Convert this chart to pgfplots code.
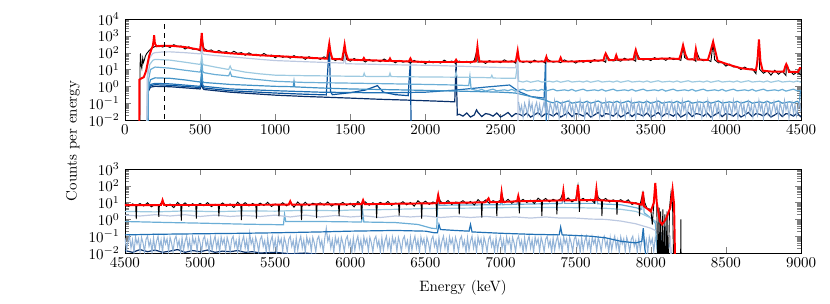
\documentclass[border=0pt]{standalone}
\usepackage{pgfplots}
\pgfplotsset{compat=1.18}
\definecolor{bl1}{HTML}{BDC9E1}
\definecolor{bl2}{HTML}{9ECAE1}
\definecolor{bl3}{HTML}{6BAED6}
\definecolor{bl4}{HTML}{4292C6}
\definecolor{bl5}{HTML}{2171B5}
\definecolor{bl6}{HTML}{08519C}
\definecolor{bl7}{HTML}{08306B}
\definecolor{bln}{HTML}{94B4D8}
\begin{document}
\begin{tikzpicture}
\useasboundingbox (0,0) rectangle (553.33pt,202pt);
% ---------------- top panel ----------------
\begin{axis}[at={(83.33pt,122pt)}, anchor=south west, scale only axis, width=450.67pt, height=67.33pt,
  ymode=log, ymin=1e-2, ymax=1e4, xmin=0, xmax=4500, xtick={0,500,...,4500},
  ytick={1e-2,1e-1,1,1e1,1e2,1e3,1e4},
  /pgf/number format/1000 sep={}, scaled x ticks=false, tick align=inside]
% navy
\addplot[bl7, line width=0.8pt, no marks] coordinates {(148,1e-4)(150,1e-4)(155,0.5)(170,0.9)(200,1.0)(300,0.95)(500,0.7)(505,0.9)(511,3)(517,0.8)(525,0.65)(700,0.45)(1000,0.3)(1200,0.25)(1500,0.2)(1700,0.17)(1900,0.15)(2100,0.13)(2195,0.12)(2204,28)(2212,0.02)
(2225,0.022)(2250,0.017)(2275,0.026)(2300,0.015)(2325,0.02)(2340,0.04)(2350,0.028)(2375,0.016)(2400,0.024)
(2425,0.022)(2450,0.017)(2475,0.026)(2500,0.015)(2525,0.02)(2550,0.028)(2575,0.016)(2600,0.024)
(2625,0.022)(2650,0.017)(2675,0.026)(2700,0.015)(2725,0.02)(2750,0.028)(2775,0.016)(2800,0.024)
(2825,0.022)(2850,0.017)(2875,0.026)(2900,0.015)(2925,0.02)(2950,0.028)(2975,0.016)(3000,0.024)
(3025,0.022)(3050,0.017)(3075,0.026)(3100,0.015)(3125,0.02)(3150,0.028)(3175,0.016)(3200,0.024)
(3225,0.022)(3250,0.017)(3275,0.026)(3300,0.015)(3325,0.02)(3350,0.028)(3375,0.016)(3400,0.024)
(3425,0.022)(3450,0.017)(3475,0.026)(3500,0.015)(3525,0.02)(3550,0.028)(3575,0.016)(3600,0.024)
(3625,0.022)(3650,0.017)(3675,0.026)(3700,0.015)(3725,0.02)(3750,0.028)(3775,0.016)(3800,0.024)
(3825,0.022)(3850,0.017)(3875,0.026)(3900,0.015)(3925,0.02)(3950,0.028)(3975,0.016)(4000,0.024)
(4025,0.022)(4050,0.017)(4075,0.026)(4100,0.015)(4125,0.02)(4150,0.028)(4175,0.016)(4200,0.024)
(4225,0.022)(4250,0.017)(4275,0.026)(4300,0.015)(4325,0.02)(4350,0.028)(4375,0.016)(4400,0.024)
(4425,0.022)(4450,0.017)(4475,0.026)(4500,0.015)};
% bl6 : edge near 1680, peaks 1360 and 1900
\addplot[bl6, line width=0.8pt, no marks] coordinates {(148,1e-4)(150,1e-4)(155,0.6)(170,1.1)(200,1.25)(300,1.15)(500,0.85)(505,1.2)(511,4)(517,1)(525,0.8)(700,0.55)(1000,0.4)(1200,0.34)(1340,0.31)(1352,20)(1360,300)(1368,0.5)(1380,0.32)(1500,0.42)(1600,0.6)(1680,1.1)(1720,0.45)(1800,0.32)(1885,0.28)(1893,4)(1900,30)(1906,1e-4)};
% bl5 : edge near 2560, peak 2800
\addplot[bl5, line width=0.8pt, no marks] coordinates {(148,1e-4)(150,1e-4)(155,0.7)(170,1.3)(200,1.5)(300,1.4)(500,1.0)(505,1.5)(511,5)(517,1.2)(525,1.0)(700,0.7)(1000,0.55)(1300,0.45)(1600,0.42)(1800,0.42)(2000,0.45)(2200,0.6)(2400,0.9)(2560,1.2)(2620,0.5)(2700,0.25)(2790,0.2)(2800,50)(2806,1e-4)};
% bl4
\addplot[bl4, line width=0.8pt, no marks] coordinates {(148,1e-4)(150,1e-4)(155,0.8)(170,2.5)(200,3.2)(300,3)(400,2.4)(500,1.8)(505,2.5)(511,10)(517,2)(525,1.7)(700,1.3)(1000,1.0)(1120,0.95)(1125,2)(1130,0.93)(1300,0.8)(1500,0.7)(1700,0.65)(1900,0.6)(2100,0.55)(2300,0.5)(2500,0.45)(2600,0.4)(2700,0.25)(2800,0.15)
(2825,0.12)(2850,0.105)(2875,0.13)(2900,0.1)(2925,0.115)(2950,0.135)(2975,0.1)(3000,0.11)
(3025,0.12)(3050,0.105)(3075,0.13)(3100,0.1)(3125,0.115)(3150,0.135)(3175,0.1)(3200,0.11)
(3225,0.12)(3250,0.105)(3275,0.13)(3300,0.1)(3325,0.115)(3350,0.135)(3375,0.1)(3400,0.11)
(3425,0.12)(3450,0.105)(3475,0.13)(3500,0.1)(3525,0.115)(3550,0.135)(3575,0.1)(3600,0.11)
(3625,0.12)(3650,0.105)(3675,0.13)(3700,0.1)(3725,0.115)(3750,0.135)(3775,0.1)(3800,0.11)
(3825,0.12)(3850,0.105)(3875,0.13)(3900,0.1)(3925,0.115)(3950,0.135)(3975,0.1)(4000,0.11)
(4025,0.12)(4050,0.105)(4075,0.13)(4100,0.1)(4125,0.115)(4150,0.135)(4175,0.1)(4200,0.11)
(4225,0.12)(4250,0.105)(4275,0.13)(4300,0.1)(4325,0.115)(4350,0.135)(4375,0.1)(4400,0.11)
(4425,0.12)(4450,0.105)(4475,0.13)(4490,0.1)(4495,0.5)(4500,0.5)};
% bl3
\addplot[bl3, line width=0.8pt, no marks] coordinates {(148,1e-4)(150,1e-4)(155,2)(170,10)(200,14)(300,12)(400,9)(500,7)(505,10)(511,40)(517,8)(525,6.5)(600,5)(690,4.2)(700,7)(710,4)(800,3)(1000,2)(1200,1.7)(1400,1.6)(1600,1.5)(1800,1.4)(2000,1.3)(2200,1.2)(2288,1.1)(2296,4)(2304,0.7)
(2325,0.62)(2350,0.55)(2375,0.66)(2400,0.52)(2425,0.6)(2450,0.68)(2475,0.54)(2500,0.58)
(2525,0.62)(2550,0.55)(2575,0.66)(2600,0.52)(2625,0.6)(2650,0.68)(2675,0.54)(2700,0.58)
(2725,0.62)(2750,0.55)(2775,0.66)(2800,0.52)(2825,0.6)(2850,0.68)(2875,0.54)(2900,0.58)
(2925,0.62)(2950,0.55)(2975,0.66)(3000,0.52)(3025,0.6)(3050,0.68)(3075,0.54)(3100,0.58)
(3125,0.62)(3150,0.55)(3175,0.66)(3200,0.52)(3225,0.6)(3250,0.68)(3275,0.54)(3300,0.58)
(3325,0.62)(3350,0.55)(3375,0.66)(3400,0.52)(3425,0.6)(3450,0.68)(3475,0.54)(3500,0.58)
(3525,0.62)(3550,0.55)(3575,0.66)(3600,0.52)(3625,0.6)(3650,0.68)(3675,0.54)(3700,0.58)
(3725,0.62)(3750,0.55)(3775,0.66)(3800,0.52)(3825,0.6)(3850,0.68)(3875,0.54)(3900,0.58)
(3925,0.62)(3950,0.55)(3975,0.66)(4000,0.52)(4025,0.6)(4050,0.68)(4075,0.54)(4100,0.58)
(4125,0.62)(4150,0.55)(4175,0.66)(4200,0.52)(4225,0.6)(4250,0.68)(4275,0.54)(4300,0.58)
(4325,0.62)(4350,0.55)(4375,0.66)(4400,0.52)(4425,0.6)(4450,0.68)(4475,0.54)(4500,0.58)};
% bl2
\addplot[bl2, line width=0.8pt, no marks] coordinates {(143,1e-4)(145,1e-4)(150,4)(165,20)(185,35)(200,40)(300,36)(400,27)(500,20)(505,25)(511,70)(517,22)(525,19)(600,14)(690,10)(700,16)(710,10)(800,7)(900,5.5)(1000,4.6)(1200,4.3)(1400,4.1)(1585,3.9)(1592,6)(1600,3.9)(1757,3.8)(1764,6)(1771,3.8)(2000,3.6)(2197,3.5)(2204,7)(2212,3.5)(2400,3.3)(2435,3.2)(2442,4.5)(2450,3.1)(2600,3)(2608,10)(2614,40)(2620,2)
(2625,2.0)(2650,1.8)(2675,2.1)(2700,1.75)(2725,1.95)(2750,2.15)(2775,1.8)(2800,1.9)
(2825,2.0)(2850,1.8)(2875,2.1)(2900,1.75)(2925,1.95)(2950,2.15)(2975,1.8)(3000,1.9)
(3025,2.0)(3050,1.8)(3075,2.1)(3100,1.75)(3125,1.95)(3150,2.15)(3175,1.8)(3200,1.9)
(3225,2.0)(3250,1.8)(3275,2.1)(3300,1.75)(3325,1.95)(3350,2.15)(3375,1.8)(3400,1.9)
(3425,2.0)(3450,1.8)(3475,2.1)(3500,1.75)(3525,1.95)(3550,2.15)(3575,1.8)(3600,1.9)
(3625,2.0)(3650,1.8)(3675,2.1)(3700,1.75)(3725,1.95)(3750,2.15)(3775,1.8)(3800,1.9)
(3825,2.0)(3850,1.8)(3875,2.1)(3900,1.75)(3925,1.95)(3950,2.15)(3975,1.8)(4000,1.9)
(4025,2.0)(4050,1.8)(4075,2.1)(4100,1.75)(4125,1.95)(4150,2.15)(4175,1.8)(4200,1.9)
(4225,2.0)(4250,1.8)(4275,2.1)(4300,1.75)(4325,1.95)(4350,2.15)(4375,1.8)(4400,1.9)
(4425,2.0)(4450,1.8)(4475,2.1)(4500,1.75)};
% bl1 lavender
\addplot[bl1, line width=0.8pt, no marks] coordinates {(138,1e-4)(140,1e-4)(150,15)(165,50)(185,90)(200,100)(250,110)(300,112)(400,100)(500,85)(505,95)(511,300)(517,90)(525,80)(600,68)(700,57)(800,48)(900,40)(1000,34)(1200,29)(1400,25)(1455,24)(1462,60)(1470,22)(1600,21)(1800,19)(2000,18)(2200,16)(2400,14)(2600,12.5)(2610,60)(2614,120)(2618,1e-4)};
% light noise band
\addplot[bln, line width=0.7pt, no marks] coordinates {
(2620,.12)(2630,.03)(2640,.07)(2650,.015)(2660,.1)(2670,.05)(2680,.02)(2690,.14)(2700,.04)(2710,.09)(2720,.013)(2730,.06)(2740,.11)(2750,.025)(2760,.08)(2770,.018)(2780,.05)
(2790,.12)(2800,.03)(2810,.07)(2820,.015)(2830,.1)(2840,.05)(2850,.02)(2860,.14)(2870,.04)(2880,.09)(2890,.013)(2900,.06)(2910,.11)(2920,.025)(2930,.08)(2940,.018)(2950,.05)
(2960,.12)(2970,.03)(2980,.07)(2990,.015)(3000,.1)(3010,.05)(3020,.02)(3030,.14)(3040,.04)(3050,.09)(3060,.013)(3070,.06)(3080,.11)(3090,.025)(3100,.08)(3110,.018)(3120,.05)
(3130,.12)(3140,.03)(3150,.07)(3160,.015)(3170,.1)(3180,.05)(3190,.02)(3200,.14)(3210,.04)(3220,.09)(3230,.013)(3240,.06)(3250,.11)(3260,.025)(3270,.08)(3280,.018)(3290,.05)
(3300,.12)(3310,.03)(3320,.07)(3330,.015)(3340,.1)(3350,.05)(3360,.02)(3370,.14)(3380,.04)(3390,.09)(3400,.013)(3410,.06)(3420,.11)(3430,.025)(3440,.08)(3450,.018)(3460,.05)
(3470,.12)(3480,.03)(3490,.07)(3500,.015)(3510,.1)(3520,.05)(3530,.02)(3540,.14)(3550,.04)(3560,.09)(3570,.013)(3580,.06)(3590,.11)(3600,.025)(3610,.08)(3620,.018)(3630,.05)
(3640,.12)(3650,.03)(3660,.07)(3670,.015)(3680,.1)(3690,.05)(3700,.02)(3710,.14)(3720,.04)(3730,.09)(3740,.013)(3750,.06)(3760,.11)(3770,.025)(3780,.08)(3790,.018)(3800,.05)
(3810,.12)(3820,.03)(3830,.07)(3840,.015)(3850,.1)(3860,.05)(3870,.02)(3880,.14)(3890,.04)(3900,.09)(3910,.013)(3920,.06)(3930,.11)(3940,.025)(3950,.08)(3960,.018)(3970,.05)
(3980,.12)(3990,.03)(4000,.07)(4010,.015)(4020,.1)(4030,.05)(4040,.02)(4050,.14)(4060,.04)(4070,.09)(4080,.013)(4090,.06)(4100,.11)(4110,.025)(4120,.08)(4130,.018)(4140,.05)
(4150,.12)(4160,.03)(4170,.07)(4180,.015)(4190,.1)(4200,.05)(4210,.02)(4220,.14)(4230,.04)(4240,.09)(4250,.013)(4260,.06)(4270,.11)(4280,.025)(4290,.08)(4300,.018)(4310,.05)
(4320,.12)(4330,.03)(4340,.07)(4350,.015)(4360,.1)(4370,.05)(4380,.02)(4390,.14)(4400,.04)(4410,.09)(4420,.013)(4430,.06)(4440,.11)(4450,.025)(4460,.08)(4470,.018)(4480,.05)(4490,.12)(4500,.03)};
% black data
\addplot[black, line width=0.6pt, no marks] coordinates {(85,1e-4)(98,1e-4)(100,12)(103,90)(107,20)(112,12)(118,45)(122,25)(128,35)(135,60)(145,90)(160,130)(175,180)(190,210)(200,230)
(225,274)(250,216)(275,259)(300,203)(325,299)(350,233)(375,248)(400,165)(425,223)(450,160)(475,166)(500,128)(511,900)(525,180)(550,131)(575,145)(600,101)(625,135)(650,102)(675,116)(700,87)(725,122)(750,90)(775,101)(800,70)(825,98)(850,74)(875,80)(900,64)(925,90)(950,65)(975,72)(1000,50)
(1025,69)(1050,53)(1075,61)(1100,47)(1125,67)(1150,50)(1175,57)(1200,40)(1225,58)(1250,44)(1275,49)(1300,40)(1325,57)(1350,42)(1360,200)(1375,47)(1400,34)(1425,46)(1450,35)(1460,180)(1475,41)(1500,31)
(1525,45)(1550,34)(1575,39)(1600,28)(1625,40)(1650,31)(1675,35)(1700,29)(1725,42)(1750,31)(1775,35)(1800,25)(1825,35)(1850,27)(1875,32)(1900,24)(1925,35)(1950,27)(1975,31)(2000,22)
(2025,32)(2050,25)(2075,29)(2100,24)(2125,36)(2150,27)(2175,32)(2200,23)(2225,32)(2250,26)(2275,31)(2300,24)(2325,35)(2345,160)(2350,27)(2375,32)(2400,23)(2425,34)(2450,27)(2475,30.5)(2500,25.5)(2525,37.5)(2550,28.5)(2575,33)(2600,24)(2614,100)
(2625,33.6)(2650,26.4)(2675,31.5)(2700,24.6)(2725,36)(2750,27.9)(2775,32.4)(2800,23.4)(2805,45)(2825,34.5)(2850,27)(2875,30.6)(2900,25.5)(2925,37.5)(2950,28.5)(2975,33)(3000,24)
(3025,34)(3050,27)(3075,33)(3100,26)(3125,39)(3150,31)(3175,36)(3200,27)(3205,70)(3225,40)(3250,32)(3275,37)(3300,31)(3325,47)(3350,36)(3375,42)(3400,31)(3402,120)(3425,45)(3450,36)(3475,43)(3500,34)(3525,51)(3550,40)(3575,48)(3600,35)
(3625,51)(3650,39)(3675,43)(3700,35)(3715,230)(3725,51)(3750,38)(3775,43)(3800,31)(3802,130)(3825,42)(3850,33)(3875,38)(3900,30)(3915,380)(3925,38)(3950,25)(3975,26)(4000,16)
(4025,21)(4050,14)(4075,14)(4100,10)(4125,14)(4150,10)(4175,11)(4200,5.7)(4220,500)(4225,10)(4250,6)(4275,8.4)(4300,4.6)(4325,9)(4350,5.2)(4375,8)(4400,4.4)(4402,18)(4425,8.3)(4450,5)(4475,7.2)(4500,4.6)};
% red fit
\addplot[red, line width=1.3pt, no marks] coordinates {(80,1e-4)(94,1e-4)(96,2.5)(110,3)(125,3.5)(140,8)(160,60)(175,150)(185,250)(190,500)(194,1100)(199,350)(210,240)(260,260)(320,250)(400,215)(480,160)(500,150)(505,400)(511,1500)(517,300)(525,135)(600,110)(700,92)(800,80)(900,70)(1000,63)(1100,57)(1200,51)(1300,46)(1345,44)(1352,120)(1360,350)(1368,110)(1380,43)(1445,40)(1455,120)(1462,300)(1470,100)(1485,39)(1550,37)(1582,36)(1590,48)(1598,36)(1700,34)(1755,32)(1764,45)(1772,32)(1850,31)(1890,30)(1900,45)(1910,30)(2000,28)(2100,28)(2195,28)(2204,38)(2213,28)(2300,28)(2335,30)(2340,80)(2346,230)(2352,80)(2360,29)(2500,29)(2600,30)(2605,45)(2614,130)(2622,40)(2630,30)(2700,30)(2795,30)(2805,57)(2815,30)(2890,30)(2900,50)(2910,30)(3000,30)(3100,33)(3185,35)(3192,60)(3200,90)(3210,60)(3220,36)(3260,37)(3270,70)(3280,38)(3385,40)(3392,80)(3400,145)(3408,80)(3418,42)(3500,42)(3600,45)(3690,43)(3700,80)(3715,280)(3730,80)(3745,41)(3790,39)(3800,160)(3812,39)(3880,37)(3895,100)(3915,450)(3930,120)(3945,33)(4000,22)(4050,16)(4100,12)(4150,10.5)(4200,9.3)(4210,30)(4220,620)(4230,30)(4245,8.5)(4300,7.6)(4385,7.4)(4395,15)(4402,21)(4410,15)(4420,7.3)(4480,7.1)(4492,12)(4500,12)};
% threshold marker
\addplot[black, dashed, line width=0.5pt, no marks] coordinates {(262,1e-3)(262,1e5)};
\end{axis}
% ---------------- bottom panel ----------------
\begin{axis}[at={(83.33pt,33.33pt)}, anchor=south west, scale only axis, width=450.67pt, height=56pt,
  ymode=log, ymin=1e-2, ymax=1e3, xmin=4500, xmax=9000, xtick={4500,5000,...,9000},
  ytick={1e-2,1e-1,1,1e1,1e2,1e3},
  /pgf/number format/1000 sep={}, scaled x ticks=false, tick align=inside]
% navy
\addplot[bl7, line width=0.8pt, no marks] coordinates {(4500,0.014)(4550,0.011)(4600,0.016)(4650,0.012)(4700,0.015)(4750,0.011)(4800,0.013)(4850,0.016)(4900,0.011)(4950,0.014)(5000,0.012)(5050,0.015)(5100,0.011)(5150,0.013)(5200,0.012)(5250,0.014)(5300,0.011)(5350,0.012)(5400,0.010)(5500,0.011)(5600,0.009)(5700,0.010)(5800,0.008)};
% light noise band
\addplot[bln, line width=0.7pt, no marks] coordinates {
(4500,.08)(4510,.015)(4520,.05)(4530,.1)(4540,.02)(4550,.06)(4560,.011)(4570,.09)(4580,.035)(4590,.07)(4600,.013)(4610,.085)(4620,.04)(4630,.012)(4640,.065)(4650,.1)(4660,.025)(4670,.055)(4680,.011)
(4690,.08)(4700,.015)(4710,.05)(4720,.1)(4730,.02)(4740,.06)(4750,.011)(4760,.09)(4770,.035)(4780,.07)(4790,.013)(4800,.085)(4810,.04)(4820,.012)(4830,.065)(4840,.1)(4850,.025)(4860,.055)(4870,.011)
(4880,.08)(4890,.015)(4900,.05)(4910,.1)(4920,.02)(4930,.06)(4940,.011)(4950,.09)(4960,.035)(4970,.07)(4980,.013)(4990,.085)(5000,.04)(5010,.012)(5020,.065)(5030,.1)(5040,.025)(5050,.055)(5060,.011)
(5070,.08)(5080,.015)(5090,.05)(5100,.1)(5110,.02)(5120,.06)(5130,.011)(5140,.09)(5150,.035)(5160,.07)(5170,.013)(5180,.085)(5190,.04)(5200,.012)(5210,.065)(5220,.1)(5230,.025)(5240,.055)(5250,.011)
(5260,.08)(5270,.015)(5280,.05)(5290,.1)(5300,.02)(5310,.06)(5320,.011)(5330,.15)(5340,.035)(5350,.07)(5360,.013)(5370,.085)(5380,.04)(5390,.012)(5400,.065)(5410,.1)(5420,.025)(5430,.055)(5440,.011)
(5450,.08)(5460,.015)(5470,.05)(5480,.1)(5490,.02)(5500,.06)(5510,.011)(5520,.09)(5530,.035)(5540,.07)(5550,.013)(5560,.085)(5570,.04)(5580,.012)(5590,.065)(5600,.1)(5610,.025)(5620,.055)(5630,.011)
(5640,.08)(5650,.015)(5660,.05)(5670,.1)(5680,.02)(5690,.06)(5700,.011)(5710,.09)(5720,.035)(5730,.07)(5740,.013)(5750,.085)(5760,.04)(5770,.012)(5780,.065)(5790,.1)(5800,.025)(5810,.055)(5820,.011)
(5830,.08)(5840,.3)(5850,.05)(5860,.1)(5870,.02)(5880,.06)(5890,.011)(5900,.09)(5910,.035)(5920,.07)(5930,.013)(5940,.085)(5950,.04)(5960,.012)(5970,.065)(5980,.1)(5990,.025)(6000,.055)(6010,.011)
(6020,.08)(6030,.015)(6040,.05)(6050,.1)(6060,.02)(6070,.06)(6080,.011)(6090,.09)(6100,.035)(6110,.07)(6120,.013)(6130,.085)(6140,.04)(6150,.012)(6160,.065)(6170,.1)(6180,.025)(6190,.055)(6200,.011)
(6210,.08)(6220,.015)(6230,.05)(6240,.1)(6250,.02)(6260,.06)(6270,.011)(6280,.09)(6290,.035)(6300,.07)(6310,.013)(6320,.085)(6330,.04)(6340,.012)(6350,.065)(6360,.1)(6370,.025)(6380,.055)(6390,.011)
(6400,.08)(6410,.015)(6420,.05)(6430,.1)(6440,.02)(6450,.06)(6460,.011)(6470,.09)(6480,.035)(6490,.07)(6500,.013)(6510,.085)(6520,.04)(6530,.012)(6540,.065)(6550,.1)(6560,.025)(6570,.055)(6580,.011)
(6590,.08)(6600,.015)(6610,.05)(6620,.1)(6630,.02)(6640,.06)(6650,.011)(6660,.09)(6670,.035)(6680,.07)(6690,.013)(6700,.085)(6710,.04)(6720,.012)(6730,.065)(6740,.1)(6750,.025)(6760,.055)(6770,.011)
(6780,.08)(6790,.015)(6800,.05)(6810,.1)(6820,.02)(6830,.06)(6840,.011)(6850,.09)(6860,.035)(6870,.07)(6880,.013)(6890,.085)(6900,.04)(6910,.012)(6920,.065)(6930,.1)(6940,.025)(6950,.055)(6960,.011)
(6970,.08)(6980,.015)(6990,.05)(7000,.1)(7010,.02)(7020,.06)(7030,.011)(7040,.09)(7050,.035)(7060,.07)(7070,.013)(7080,.085)(7090,.04)(7100,.012)(7110,.065)(7120,.1)(7130,.025)(7140,.055)(7150,.011)
(7160,.08)(7170,.015)(7180,.05)(7190,.1)(7200,.02)(7210,.06)(7220,.011)(7230,.09)(7240,.035)(7250,.07)(7260,.013)(7270,.085)(7280,.04)(7290,.012)(7300,.065)(7310,.1)(7320,.025)(7330,.055)(7340,.011)
(7350,.08)(7360,.015)(7370,.05)(7380,.1)(7390,.02)(7400,.06)(7410,.011)(7420,.09)(7430,.035)(7440,.07)(7450,.013)(7460,.085)(7470,.04)(7480,.012)(7490,.065)(7500,.1)(7510,.025)(7520,.055)(7530,.011)
(7540,.08)(7550,.015)(7560,.05)(7570,.1)(7580,.02)(7590,.06)(7600,.011)(7610,.09)(7620,.035)(7630,.07)(7640,.013)(7650,.085)(7660,.04)(7670,.012)(7680,.065)(7690,.1)(7700,.025)(7710,.055)(7720,.011)
(7730,.08)(7740,.015)(7750,.05)(7760,.1)(7770,.02)(7780,.06)(7790,.011)(7800,.09)(7810,.035)(7820,.07)(7830,.013)(7840,.085)(7850,.04)(7860,.012)(7870,.065)(7880,.1)(7890,.025)(7900,.055)(7910,.011)
(7920,.08)(7930,.015)(7940,.05)(7950,.1)(7960,.02)(7970,.06)(7980,.011)(7990,.09)(8000,.035)(8010,.07)(8020,.013)(8030,.085)(8040,.04)(8050,.012)(8060,.065)(8070,.1)(8080,.025)(8090,.055)(8100,.011)
(8110,.05)(8120,.02)(8130,.04)(8140,.005)};
% bl5 dark
\addplot[bl5, line width=0.8pt, no marks] coordinates {(4500,0.12)(4700,0.13)(5000,0.14)(5300,0.15)(5500,0.16)(5800,0.18)(6000,0.2)(6300,0.22)(6500,0.2)(6560,0.16)(6580,0.16)(6590,0.5)(6600,0.25)(6700,0.22)(6790,0.2)(6800,0.5)(6810,0.18)(7000,0.15)(7200,0.13)(7390,0.12)(7400,0.35)(7410,0.12)(7600,0.1)(7700,0.08)(7800,0.05)(7900,0.04)(7940,0.05)(7950,0.3)(7960,0.02)(8000,1e-4)};
% bl3
\addplot[bl3, line width=0.8pt, no marks] coordinates {(4500,0.75)(4800,0.65)(5000,0.6)(5300,0.52)(5555,0.48)(5562,2)(5570,0.75)(5800,0.75)(6075,0.7)(6082,3)(6090,0.7)(6300,0.65)(6450,0.5)(6540,0.3)(6575,0.28)(6583,18)(6592,7)(7000,7.5)(7005,25)(7012,7.5)(7110,8)(7118,20)(7126,8)(7410,9)(7418,35)(7426,9)(7630,9)(7638,45)(7646,8.5)(7800,7.5)(7900,5)(7940,4)(7948,35)(7956,2.5)(8000,1.2)(8030,0.6)(8060,1e-4)};
% bl2
\addplot[bl2, line width=0.8pt, no marks] coordinates {(4500,3)(4700,2.8)(4900,3.2)(5100,2.9)(5300,3.2)(5500,3.1)(5700,3.5)(5900,3.3)(6000,3.6)(6200,3.8)(6400,4.2)(6500,4.5)(6700,4.6)(7000,5)(7250,5.2)(7500,5)(7700,4.6)(7800,4)(7900,3)(7950,2)(8000,1.2)(8050,0.6)(8100,0.3)(8120,1e-4)};
% lavender
\addplot[bl1, line width=0.8pt, no marks] coordinates {(4500,1.8)(4600,1.6)(4700,1.9)(4800,1.6)(4900,1.9)(5000,1.5)(5100,1.8)(5200,1.5)(5300,1.7)(5400,1.5)(5500,1.8)(5600,1.4)(5700,1.8)(5800,1.4)(5900,1.7)(6000,1.4)(6100,1.6)(6200,1.3)(6300,1.6)(6400,1.4)(6500,1.6)(6600,1.3)(6700,1.5)(6800,1.3)(6900,1.5)(7000,1.3)(7100,1.4)(7200,1.2)(7300,1.4)(7400,1.2)(7500,1.2)(7600,1.05)(7700,1.0)(7800,0.8)(7900,0.55)(8000,0.3)(8050,0.18)(8100,0.12)(8130,0.1)(8140,1e-4)};
% black data
\addplot[black, line width=0.6pt, no marks] coordinates {(4500,9.5)(4525,6)(4550,8.4)(4571,7)(4575,1.05)(4579,7)(4600,8.8)(4625,6.3)(4650,9.8)(4675,5.6)(4700,7.8)(4721,7)(4725,1.4)(4729,7)(4750,12)(4775,6)(4800,8.2)(4825,5)(4850,10.3)(4871,7)(4875,0.85)(4879,7)
(4900,9.7)(4925,6.1)(4950,8.6)(4971,7)(4975,1.1)(4979,7)(5000,9)(5025,6.5)(5050,10.1)(5075,5.8)(5100,8)(5121,7)(5125,1.5)(5129,7)(5150,9.5)(5175,6.2)(5200,8.4)(5225,5.1)(5250,10.6)(5271,7)(5275,0.9)(5279,7)
(5300,10)(5325,6.3)(5350,8.9)(5371,7)(5375,1.1)(5379,7)(5400,9.3)(5425,6.7)(5450,10.4)(5475,5.9)(5500,8.3)(5521,7)(5525,1.5)(5529,7)(5550,9.8)(5575,6.4)(5600,10)(5625,5.3)(5650,11)(5671,7)(5675,0.9)(5679,7)
(5700,10.4)(5725,6.5)(5750,9.2)(5771,8)(5775,1.2)(5779,8)(5800,9.7)(5825,7)(5850,10.9)(5875,6.2)(5900,8.7)(5921,8)(5925,1.6)(5929,8)(5950,10.3)(5975,6.8)(6000,9.2)(6025,5.6)(6050,11.6)(6071,8)(6075,1)(6079,8)
(6100,11)(6125,7)(6150,9.8)(6171,8)(6175,1.2)(6179,8)(6200,10.4)(6225,7.5)(6250,11.8)(6275,6.8)(6300,9.5)(6321,8.5)(6325,1.7)(6329,8.5)(6350,11.3)(6375,7.4)(6400,10.1)(6425,6.2)(6450,12.9)(6471,9)(6475,1.1)(6479,9)
(6500,12.2)(6525,7.8)(6550,11)(6571,9)(6575,1.4)(6579,9)(6585,25)(6600,11.8)(6625,8.5)(6650,13.4)(6675,7.7)(6700,10.8)(6721,10)(6725,2)(6729,10)(6750,13)(6775,8.5)(6800,11.7)(6825,7.2)(6850,15)(6871,10)(6875,1.3)(6879,10)
(6900,14.3)(6925,9.1)(6950,13)(6971,11)(6975,1.6)(6979,11)(7000,13.8)(7005,35)(7025,10)(7050,15.7)(7075,9.1)(7100,12.9)(7121,12)(7125,2.3)(7129,12)(7150,15.6)(7175,10.2)(7200,14.1)(7225,8.8)(7250,18.3)(7271,13)(7275,1.6)(7279,13)
(7300,17.6)(7325,11.1)(7350,15.8)(7371,13)(7375,2)(7379,13)(7400,16.9)(7418,45)(7425,12.2)(7450,19)(7475,11)(7500,15.3)(7515,100)(7521,14)(7525,2.8)(7529,14)(7550,18)(7575,11.9)(7600,16.1)(7625,9.7)(7638,55)(7650,19.9)(7671,14)(7675,1.6)(7679,14)
(7700,17.6)(7725,10.8)(7750,14.7)(7771,12)(7775,1.9)(7779,12)(7800,15)(7825,10.3)(7850,14.7)(7875,7.8)(7900,9.9)(7921,8)(7925,1.6)(7929,8)(7948,40)(7960,10)(7975,4.5)(8000,4)
(8010,0.5)(8020,8)(8030,120)(8040,6)(8048,1e-4)(8055,5)(8060,1e-4)(8066,3)(8072,1e-4)(8080,4)(8086,1e-4)(8094,2)(8100,1e-4)(8108,3)(8114,1e-4)(8125,5)(8135,40)(8145,8)(8155,1e-4)(8198,1e-4)(8200,1)(8203,1e-4)};
% red fit
\addplot[red, line width=1.3pt, no marks] coordinates {(4500,7)(4740,7.2)(4750,14)(4760,7.2)(5000,7.2)(5500,7.5)(5590,7.6)(5600,12)(5610,7.6)(6000,8)(6075,8.1)(6085,14)(6095,8.1)(6500,9)(6575,9.2)(6585,28)(6595,9.3)(6900,10.5)(6920,18)(6930,10.6)(7000,11)(7007,40)(7015,11)(7110,12)(7118,25)(7126,12)(7300,13)(7410,13.5)(7418,50)(7426,13.5)(7505,14)(7515,110)(7525,14)(7630,14)(7638,63)(7646,14)(7800,12)(7900,9)(7940,7.5)(7948,45)(7956,6)(8000,3)(8020,10)(8030,150)(8040,10)(8060,0.8)(8075,0.5)(8100,1)(8130,5)(8145,62)(8155,8)(8165,1e-4)(8200,1e-4)};
\end{axis}
\node[rotate=90] at (48.67pt,108pt) {Counts per energy};
\node at (308.67pt,10pt) {Energy (keV)};
\end{tikzpicture}
\end{document}
